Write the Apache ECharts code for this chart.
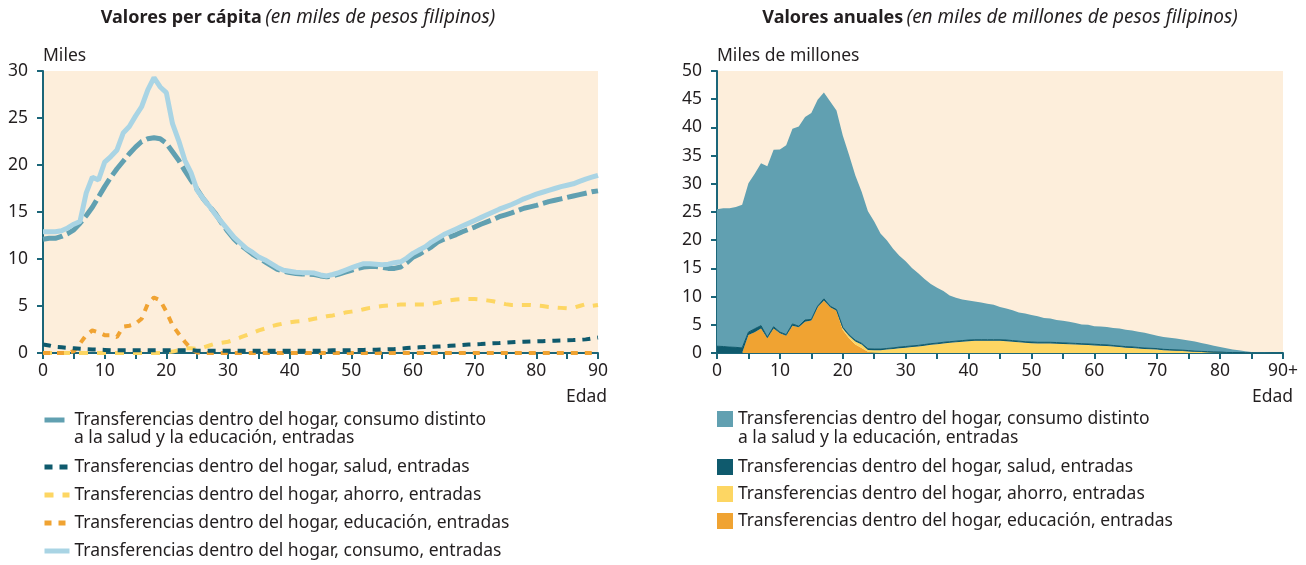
<!DOCTYPE html>
<html>
<head>
<meta charset="utf-8">
<script src="https://cdn.jsdelivr.net/npm/echarts@6/dist/echarts.min.js"></script>
<style>
  html, body { margin: 0; padding: 0; background: #fff; }
  #chart { width: 1306px; height: 565px; }
</style>
</head>
<body>
<div id="chart"></div>
<script>
// edades 0..90 (eje x de ambos gráficos)
const edades = Array.from({ length: 91 }, (_, i) => i);

const nombres = [
  'Transferencias dentro del hogar, consumo distinto a la salud y la educación, entradas',
  'Transferencias dentro del hogar, salud, entradas',
  'Transferencias dentro del hogar, ahorro, entradas',
  'Transferencias dentro del hogar, educación, entradas',
  'Transferencias dentro del hogar, consumo, entradas'
];

// ---- valores per cápita (miles de pesos) ----
const consumoDistintoPC = [
  12.1, 12.2, 12.2, 12.4, 12.7, 13.1, 13.8, 14.6, 15.5, 16.6,
  17.7, 18.7, 19.6, 20.4, 21.2, 21.9, 22.5, 22.8, 22.9, 22.8,
  22.3, 21.4, 20.5, 19.4, 18.4, 17.4, 16.4, 15.6, 14.8, 13.8,
  12.9, 12.1, 11.5, 11.0, 10.5, 10.1, 9.7, 9.3, 8.9, 8.7,
  8.55, 8.45, 8.4, 8.4, 8.35, 8.2, 8.1, 8.2, 8.4, 8.6,
  8.8, 9.0, 9.15, 9.2, 9.2, 9.1, 9.0, 9.0, 9.15, 9.6,
  10.2, 10.5, 10.9, 11.3, 11.8, 12.1, 12.35, 12.6, 12.9, 13.15,
  13.4, 13.7, 13.95, 14.2, 14.5, 14.7, 14.9, 15.15, 15.4, 15.55,
  15.7, 15.9, 16.1, 16.25, 16.4, 16.55, 16.7, 16.85, 17.0, 17.15,
  17.25
];
const saludPC = [
  0.9, 0.8, 0.65, 0.6, 0.55, 0.5, 0.45, 0.4, 0.38, 0.35,
  0.33, 0.3, 0.3, 0.3, 0.3, 0.3, 0.3, 0.3, 0.3, 0.3,
  0.3, 0.3, 0.3, 0.3, 0.3, 0.25, 0.25, 0.25, 0.25, 0.25,
  0.25, 0.25, 0.25, 0.25, 0.25, 0.25, 0.25, 0.25, 0.25, 0.25,
  0.25, 0.25, 0.25, 0.25, 0.25, 0.25, 0.27, 0.28, 0.28, 0.28,
  0.3, 0.32, 0.33, 0.35, 0.35, 0.37, 0.4, 0.43, 0.47, 0.52,
  0.57, 0.6, 0.63, 0.66, 0.69, 0.72, 0.76, 0.8, 0.85, 0.9,
  0.93, 0.96, 1.0, 1.03, 1.06, 1.1, 1.14, 1.18, 1.2, 1.22,
  1.24, 1.26, 1.28, 1.3, 1.32, 1.35, 1.37, 1.4, 1.45, 1.55,
  1.65
];
const ahorroPC = [
  0, 0, 0, 0, 0, 0, 0, 0, 0, 0,
  0, 0, 0, 0, 0, 0, 0, 0, 0, 0,
  0.05, 0.15, 0.3, 0.5, 0.5, 0.45, 0.6, 0.8, 1.0, 1.1,
  1.2, 1.4, 1.65, 1.9, 2.15, 2.4, 2.6, 2.85, 3.0, 3.15,
  3.25, 3.35, 3.4, 3.5, 3.65, 3.75, 3.9, 4.0, 4.15, 4.3,
  4.4, 4.5, 4.65, 4.8, 4.9, 5.0, 5.05, 5.1, 5.15, 5.15,
  5.15, 5.15, 5.15, 5.25, 5.35, 5.5, 5.6, 5.7, 5.75, 5.75,
  5.75, 5.7, 5.6, 5.5, 5.35, 5.2, 5.1, 5.1, 5.1, 5.1,
  5.05, 5.0, 4.9, 4.85, 4.8, 4.75, 4.8, 5.0, 5.2, 5.0,
  5.1
];
const educacionPC = [
  0, 0, 0, 0, 0, 0.2, 1.0, 1.9, 2.4, 2.2,
  1.9, 1.9, 1.7, 2.8, 2.9, 3.1, 3.65, 5.25, 5.9, 5.6,
  4.4, 2.95, 2.05, 1.2, 0.45, 0.05, 0, 0, 0, 0,
  0, 0, 0, 0, 0, 0, 0, 0, 0, 0,
  0, 0, 0, 0, 0, 0, 0, 0, 0, 0,
  0, 0, 0, 0, 0, 0, 0, 0, 0, 0,
  0, 0, 0, 0, 0, 0, 0, 0, 0, 0,
  0, 0, 0, 0, 0, 0, 0, 0, 0, 0,
  0, 0, 0, 0, 0, 0, 0, 0, 0, 0,
  0
];
const consumoPC = [
  12.9, 12.9, 12.9, 13.0, 13.3, 13.7, 14.0, 17.0, 18.7, 18.4,
  20.3, 20.9, 21.6, 23.4, 24.1, 25.2, 26.2, 28.0, 29.3, 28.3,
  27.7, 24.4, 22.6, 20.5, 19.2, 17.3, 16.4, 15.6, 14.7, 13.9,
  13.1, 12.3, 11.7, 11.1, 10.7, 10.2, 9.9, 9.5, 9.1, 8.8,
  8.7, 8.6, 8.55, 8.55, 8.5, 8.3, 8.2, 8.35, 8.55, 8.8,
  9.05, 9.3, 9.5, 9.5, 9.45, 9.4, 9.45, 9.6, 9.7, 10.1,
  10.6, 10.95, 11.3, 11.8, 12.2, 12.6, 12.9, 13.2, 13.5, 13.8,
  14.1, 14.4, 14.7, 15.0, 15.3, 15.55, 15.8, 16.1, 16.4, 16.65,
  16.9, 17.1, 17.3, 17.5, 17.7, 17.85, 18.0, 18.25, 18.5, 18.7,
  18.9
];

// ---- valores anuales (miles de millones de pesos) ----
const educacionAnual = [
  0, 0, 0, 0, 0, 3.2, 3.7, 4.35, 2.6, 4.35,
  3.5, 3.05, 4.85, 4.55, 5.55, 5.75, 8.1, 9.3, 8.1, 7.5,
  4.1, 2.6, 1.5, 0.9, 0.2, 0.05, 0, 0, 0, 0,
  0, 0, 0, 0, 0, 0, 0, 0, 0, 0,
  0, 0, 0, 0, 0, 0, 0, 0, 0, 0,
  0, 0, 0, 0, 0, 0, 0, 0, 0, 0,
  0, 0, 0, 0, 0, 0, 0, 0, 0, 0,
  0, 0, 0, 0, 0, 0, 0, 0, 0, 0,
  0, 0, 0, 0, 0, 0, 0, 0, 0, 0,
  0
];
const ahorroAnual = [
  0, 0, 0, 0, 0, 0, 0, 0, 0, 0,
  0, 0, 0, 0, 0, 0, 0, 0, 0, 0,
  0.25, 0.4, 0.55, 0.6, 0.35, 0.45, 0.5, 0.6, 0.7, 0.85,
  0.95, 1.05, 1.15, 1.3, 1.45, 1.55, 1.7, 1.8, 1.9, 2.0,
  2.1, 2.15, 2.15, 2.15, 2.15, 2.15, 2.1, 2.0, 1.9, 1.8,
  1.75, 1.7, 1.7, 1.7, 1.65, 1.6, 1.55, 1.5, 1.45, 1.4,
  1.35, 1.3, 1.25, 1.15, 1.05, 0.95, 0.9, 0.8, 0.7, 0.65,
  0.6, 0.5, 0.45, 0.4, 0.35, 0.28, 0.22, 0.18, 0.14, 0.1,
  0.07, 0.05, 0.03, 0.02, 0, 0, 0, 0, 0, 0,
  0
];
const saludAnual = [
  1.2, 1.15, 1.05, 1.0, 0.9, 0.5, 0.6, 0.5, 0.2, 0.3,
  0.2, 0.2, 0.3, 0.2, 0.3, 0.2, 0.2, 0.3, 0.2, 0.2,
  0.2, 0.2, 0.2, 0.2, 0.2, 0.2, 0.2, 0.2, 0.2, 0.2,
  0.2, 0.2, 0.2, 0.2, 0.2, 0.2, 0.2, 0.2, 0.2, 0.2,
  0.2, 0.2, 0.2, 0.2, 0.2, 0.2, 0.2, 0.2, 0.2, 0.2,
  0.2, 0.2, 0.2, 0.2, 0.2, 0.2, 0.2, 0.2, 0.2, 0.2,
  0.2, 0.18, 0.18, 0.18, 0.18, 0.18, 0.18, 0.18, 0.18, 0.18,
  0.18, 0.15, 0.15, 0.15, 0.15, 0.15, 0.1, 0.1, 0.1, 0.1,
  0.1, 0.05, 0.05, 0.05, 0.05, 0.05, 0.02, 0.02, 0.02, 0.02,
  0.02
];
const consumoDistintoAnual = [
  24.3, 24.5, 24.6, 24.9, 25.4, 26.4, 27.5, 28.8, 30.3, 31.4,
  32.4, 33.6, 34.6, 35.4, 36.0, 36.6, 36.6, 36.6, 36.3, 35.3,
  34.0, 31.9, 29.2, 26.9, 24.4, 22.6, 20.5, 19.2, 17.6, 16.2,
  15.1, 13.8, 12.8, 11.6, 10.6, 9.8, 9.1, 8.2, 7.7, 7.3,
  7.0, 6.8, 6.6, 6.4, 6.2, 5.8, 5.6, 5.4, 5.1, 5.0,
  4.8, 4.6, 4.3, 4.2, 4.0, 3.9, 3.8, 3.6, 3.4, 3.4,
  3.2, 3.2, 3.2, 3.1, 3.1, 3.0, 2.9, 2.8, 2.7, 2.5,
  2.3, 2.2, 2.1, 2.0, 1.9, 1.8, 1.7, 1.5, 1.3, 1.1,
  0.9, 0.75, 0.55, 0.4, 0.25, 0.13, 0.08, 0.05, 0.03, 0.02,
  0.01
];

const FONT = 'Noto Sans';
const FS = 17.5;
const TEXT = '#231f20';
const AXIS = '#1b6679';
const FONDO = '#fdeedb';
const C_DISTINTO = '#61a0b1';
const C_SALUD = '#0f5a6d';
const C_AHORRO = '#fdd663';
const C_EDU = '#f0a332';
const C_CONSUMO = '#a9d4e4';

const pares = (vals) => edades.map((e, i) => [e, vals[i]]);

const chart = echarts.init(document.getElementById('chart'), null, { renderer: 'canvas' });

const tick = { show: true, length: 6, lineStyle: { color: AXIS, width: 2 } };
const etiqueta = { fontFamily: FONT, fontSize: FS, color: TEXT };

// eje x per cápita: valores 0..90
const ejeXPC = {
  gridIndex: 0,
  type: 'value',
  min: 0,
  max: 90,
  interval: 10,
  axisLine: { lineStyle: { color: AXIS, width: 2 } },
  axisTick: tick,
  minorTick: Object.assign({ splitNumber: 2 }, tick),
  splitLine: { show: false },
  axisLabel: Object.assign({ margin: 9 }, etiqueta)
};

// eje x anual: categorías (para poder apilar), último rótulo 90+
const ejeXAnual = {
  gridIndex: 1,
  type: 'category',
  data: edades.map(String),
  boundaryGap: false,
  axisLine: { lineStyle: { color: AXIS, width: 2 } },
  axisTick: Object.assign({ interval: 4 }, tick),
  splitLine: { show: false },
  axisLabel: Object.assign({ margin: 9, interval: 9, formatter: (v) => v === '90' ? '90+' : v }, etiqueta)
};

const ejeY = (gridIndex, max) => ({
  gridIndex,
  type: 'value',
  min: 0,
  max,
  interval: 5,
  axisLine: { show: true, lineStyle: { color: AXIS, width: 2 } },
  axisTick: tick,
  splitLine: { show: false },
  axisLabel: Object.assign({ margin: 15 }, etiqueta)
});

const linea = (name, data, color, width, dash, z) => ({
  name,
  type: 'line',
  xAxisIndex: 0,
  yAxisIndex: 0,
  data: pares(data),
  symbol: 'none',
  z,
  lineStyle: { color, width, type: dash, cap: 'butt' },
  itemStyle: { color }
});

const area = (name, data, color, lineWidth) => ({
  name,
  type: 'line',
  xAxisIndex: 1,
  yAxisIndex: 1,
  stack: 'anual',
  data,
  symbol: 'none',
  lineStyle: { width: lineWidth, color },
  itemStyle: { color },
  areaStyle: { color, opacity: 1 }
});

const primeraLinea = 'Transferencias dentro del hogar, consumo distinto';

// leyenda de líneas: solo el trazo, sin el círculo
const legendaLinea = (i, top) => ({
  data: [nombres[i]],
  left: 42,
  top,
  padding: 0,
  itemWidth: 25,
  itemHeight: 16,
  selectedMode: false,
  itemStyle: { opacity: 0, borderWidth: 0 },
  lineStyle: { width: 5 },
  formatter: () => i === 0 ? primeraLinea : nombres[i],
  textStyle: etiqueta
});

const legendaArea = (i, top) => ({
  data: ['anual:' + nombres[i]],
  left: 717,
  top,
  padding: 0,
  icon: 'rect',
  itemWidth: 16,
  itemHeight: 16,
  selectedMode: false,
  formatter: () => i === 0 ? primeraLinea : nombres[i],
  textStyle: etiqueta
});

const texto = (x, y, text, align) => ({
  type: 'text',
  x, y,
  style: { text, fill: TEXT, font: FS + 'px "' + FONT + '"', align, verticalAlign: 'middle' }
});

const titulo = (x, bold, ital) => ({
  type: 'text',
  x, y: 18,
  style: {
    text: '{b|' + bold + '} {i|' + ital + '}',
    align: 'center',
    verticalAlign: 'middle',
    rich: {
      b: { fontFamily: FONT, fontSize: 18, fontWeight: 'bold', fill: TEXT },
      i: { fontFamily: FONT, fontSize: 19, fontStyle: 'italic', fill: TEXT }
    }
  }
});

chart.setOption({
  animation: false,
  backgroundColor: '#fff',
  grid: [
    { left: 43, top: 71, width: 555, height: 282, show: true, backgroundColor: FONDO, borderWidth: 0 },
    { left: 717, top: 71, width: 566, height: 282, show: true, backgroundColor: FONDO, borderWidth: 0 }
  ],
  xAxis: [ejeXPC, ejeXAnual],
  yAxis: [ejeY(0, 30), ejeY(1, 50)],
  legend: [
    legendaLinea(0, 411),
    legendaLinea(1, 458),
    legendaLinea(2, 486),
    legendaLinea(3, 514),
    legendaLinea(4, 542),
    legendaArea(0, 410),
    legendaArea(1, 458),
    legendaArea(2, 485),
    legendaArea(3, 512)
  ],
  series: [
    linea(nombres[2], ahorroPC, C_AHORRO, 4, [9, 9], 3),
    linea(nombres[3], educacionPC, C_EDU, 4, [7, 7], 4),
    linea(nombres[1], saludPC, C_SALUD, 4, [8, 7], 5),
    linea(nombres[0], consumoDistintoPC, C_DISTINTO, 5, [20, 5], 6),
    linea(nombres[4], consumoPC, C_CONSUMO, 5, 'solid', 7),
    area('anual:' + nombres[3], educacionAnual, C_EDU, 0),
    area('anual:' + nombres[2], ahorroAnual, C_AHORRO, 0),
    area('anual:' + nombres[1], saludAnual, C_SALUD, 1),
    area('anual:' + nombres[0], consumoDistintoAnual, C_DISTINTO, 0)
  ],
  graphic: [
    titulo(298, 'Valores per cápita', '(en miles de pesos filipinos)'),
    titulo(1000, 'Valores anuales', '(en miles de millones de pesos filipinos)'),
    texto(43, 56, 'Miles', 'left'),
    texto(717, 56, 'Miles de millones', 'left'),
    texto(607, 397, 'Edad', 'right'),
    texto(1293, 397, 'Edad', 'right'),
    texto(74, 438, 'a la salud y la educación, entradas', 'left'),
    texto(738, 438, 'a la salud y la educación, entradas', 'left')
  ]
});
</script>
</body>
</html>
